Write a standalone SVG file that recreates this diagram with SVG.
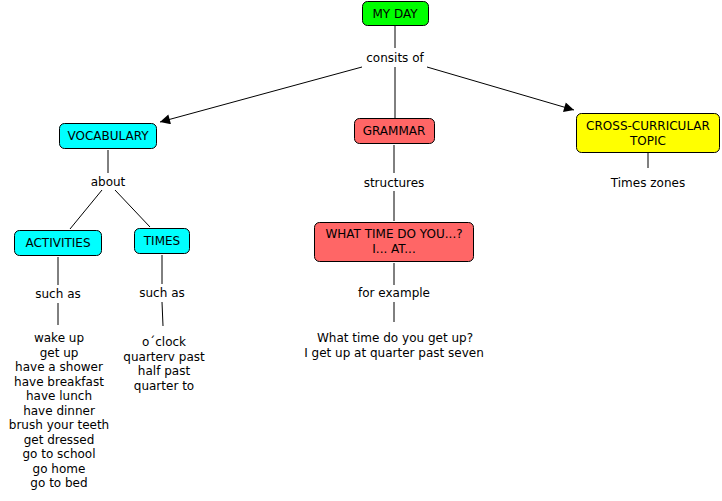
<svg xmlns="http://www.w3.org/2000/svg" width="722" height="501" viewBox="0 0 722 501">
<style>
text{font-family:"DejaVu Sans",Verdana,sans-serif;font-size:12px;fill:#000;text-anchor:middle}
.box{stroke:#000;stroke-width:1}
.g{fill:#00ff00}.b{fill:#00ffff}.r{fill:#ff6666}.y{fill:#ffff00}
.ln{stroke:#000;stroke-width:1;fill:none}
</style>
<defs>
<marker id="ah" viewBox="0 0 10 10" refX="10" refY="5" markerWidth="13" markerHeight="10" markerUnits="userSpaceOnUse" orient="auto"><path d="M0,0L10,5L0,10z" fill="#000"/></marker>
</defs>
<rect width="722" height="501" fill="#fff"/>
<g id="connectors">
<line class="ln" x1="395" y1="26" x2="395" y2="48"/>
<line class="ln" x1="395" y1="67" x2="395" y2="118"/>
<line class="ln" x1="362" y1="67" x2="160" y2="122" marker-end="url(#ah)"/>
<line class="ln" x1="427" y1="67" x2="574" y2="110" marker-end="url(#ah)"/>
<line class="ln" x1="108" y1="150" x2="108" y2="173"/>
<line class="ln" x1="102" y1="190" x2="70" y2="229"/>
<line class="ln" x1="115" y1="190" x2="150" y2="227"/>
<line class="ln" x1="58" y1="257" x2="58" y2="285"/>
<line class="ln" x1="58" y1="303" x2="58" y2="325"/>
<line class="ln" x1="162" y1="255" x2="162" y2="284"/>
<line class="ln" x1="162" y1="302" x2="163" y2="326"/>
<line class="ln" x1="394" y1="145" x2="394" y2="173"/>
<line class="ln" x1="394" y1="191" x2="394" y2="221"/>
<line class="ln" x1="394" y1="263" x2="394" y2="285"/>
<line class="ln" x1="394" y1="302" x2="394" y2="322"/>
<line class="ln" x1="648" y1="153" x2="648" y2="168"/>
</g>
<g id="myday"><rect class="box g" x="362.5" y="1.5" width="66" height="24" rx="5"/><text x="395" y="18">MY DAY</text></g>
<g id="consits"><text x="395" y="62">consits of</text></g>
<g id="vocabulary"><rect class="box b" x="59.5" y="123.5" width="97" height="25" rx="5"/><text x="108" y="140">VOCABULARY</text></g>
<g id="about"><text x="108" y="186">about</text></g>
<g id="activities"><rect class="box b" x="14.5" y="230.5" width="87" height="25" rx="5"/><text x="58" y="247">ACTIVITIES</text></g>
<g id="times"><rect class="box b" x="134.5" y="228.5" width="55" height="25" rx="5"/><text x="162" y="245">TIMES</text></g>
<g id="suchas1"><text x="58" y="298">such as</text></g>
<g id="suchas2"><text x="162" y="297">such as</text></g>
<g id="activitylist">
<text x="59" y="342">wake up</text>
<text x="59" y="356.5">get up</text>
<text x="59" y="371">have a shower</text>
<text x="59" y="385.5">have breakfast</text>
<text x="59" y="400">have lunch</text>
<text x="59" y="414.5">have dinner</text>
<text x="59" y="429">brush your teeth</text>
<text x="59" y="443.5">get dressed</text>
<text x="59" y="458">go to school</text>
<text x="59" y="472.5">go home</text>
<text x="59" y="487">go to bed</text>
</g>
<g id="timeslist">
<text x="164" y="346">o´clock</text>
<text x="164" y="360.5">quarterv past</text>
<text x="164" y="375">half past</text>
<text x="164" y="389.5">quarter to</text>
</g>
<g id="grammar"><rect class="box r" x="354.5" y="118.5" width="80" height="25" rx="5"/><text x="394" y="135">GRAMMAR</text></g>
<g id="structures"><text x="394" y="187">structures</text></g>
<g id="whattime"><rect class="box r" x="314.5" y="222.5" width="159" height="39" rx="5"/><text x="394" y="238">WHAT TIME DO YOU...?</text><text x="394" y="253">I... AT...</text></g>
<g id="forexample"><text x="394" y="297">for example</text></g>
<g id="example"><text x="395" y="342">What time do you get up?</text><text x="394" y="356.5">I get up at quarter past seven</text></g>
<g id="cross"><rect class="box y" x="576.5" y="113.5" width="143" height="39" rx="5"/><text x="648" y="130">CROSS-CURRICULAR</text><text x="648" y="145">TOPIC</text></g>
<g id="timezones"><text x="648" y="187">Times zones</text></g>
</svg>
